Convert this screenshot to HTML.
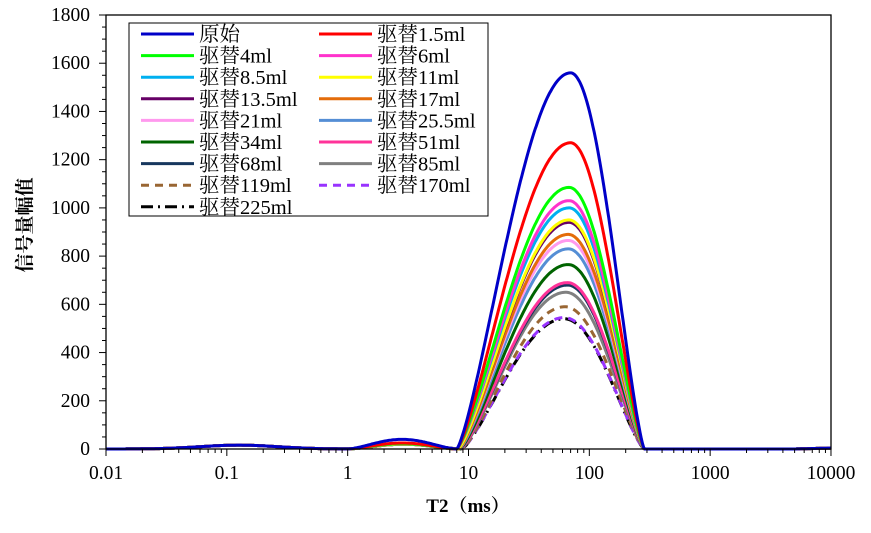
<!DOCTYPE html>
<html><head><meta charset="utf-8"><style>
body{margin:0;background:#fff;}
svg{display:block;font-family:"Liberation Serif","Noto Serif CJK SC",serif;}
</style></head><body>
<svg id="s" width="871" height="533" xmlns="http://www.w3.org/2000/svg">
<rect x="0" y="0" width="871" height="533" fill="#fff"/>
<g id="curves"></g>
<rect x="106" y="15" width="725" height="434" fill="none" stroke="#000" stroke-width="1.3"/>
<g id="ticks" stroke="#000" stroke-width="1"></g>
<g font-size="19.5" fill="#000" id="labels"></g>
<text x="468" y="512" font-size="19" font-weight="bold" text-anchor="middle">T2（ms）</text>
<text transform="translate(31,225) rotate(-90)" font-size="19" font-weight="bold" text-anchor="middle">信号量幅值</text>
<g id="legend"></g>
</svg>
<script>
const NS="http://www.w3.org/2000/svg";
function el(t,a,p){const e=document.createElementNS(NS,t);for(const k in a)e.setAttribute(k,a[k]);p.appendChild(e);return e;}
const X=v=>106+(Math.log10(v)+2)*120.83, Y=v=>449-v*434/1800;
const tk=document.getElementById('ticks'), lb=document.getElementById('labels');
for(let v=0;v<=1800;v+=50){const y=Y(v);el('line',{x1:v%200==0?99:102,x2:106,y1:y,y2:y},tk);
 if(v%200==0){const t=el('text',{x:90,y:y+6,'text-anchor':'end'},lb);t.textContent=v;}}
const xl=['0.01','0.1','1','10','100','1000','10000'];
for(let d=-2;d<=4;d++){for(let m=1;m<10;m++){if(d==4&&m>1)break;const x=X(m*Math.pow(10,d));el('line',{x1:x,x2:x,y1:449,y2:m==1?456:453},tk);}
 const t=el('text',{x:X(Math.pow(10,d)),y:479,'text-anchor':'middle'},lb);t.textContent=xl[d+2];}
const S=[
['原始','#0000c8',1560,'',40,70,8],
['驱替1.5ml','#ff0000',1270,'',25,70,8],
['驱替4ml','#00ff00',1085,'',22,68,8],
['驱替6ml','#ff33cc',1030,'',22,68,8],
['驱替8.5ml','#00b0f0',1000,'',22,68,8],
['驱替11ml','#ffff00',950,'',20,68,8.2],
['驱替13.5ml','#660066',940,'',20,68,8.2],
['驱替17ml','#e46c0a',890,'',20,67,8.3],
['驱替21ml','#ff99ee',865,'',20,67,8.3],
['驱替25.5ml','#558ed5',830,'',20,67,8.4],
['驱替34ml','#006400',765,'',20,67,8.5],
['驱替51ml','#ff3399',690,'',20,66,8.6],
['驱替68ml','#17375e',680,'',20,66,8.6],
['驱替85ml','#808080',650,'',20,64,8.7],
['驱替119ml','#996633',590,'8,6',20,63,8.8],
['驱替170ml','#9933ff',545,'8,6',20,62,8.8],
['驱替225ml','#000000',540,'12,5,2,5',20,62,8.8]];
const cg=document.getElementById('curves');
S.slice().reverse().forEach(s=>{
 const [n,c,A,da,b2,pk,st]=s;const lp=Math.log10(pk),ls=Math.log10(st),le=Math.log10(285);
 let d='';
 for(let lx=-2;lx<=4.0001;lx+=0.01){let v=0;
  const g1=(lx-(-0.9))/0.45; v+=16*Math.exp(-g1*g1);
  if(lx>0&&lx<ls){const t=lx/ls;v+=b2*Math.pow(Math.sin(Math.PI*t),1.5);}
  if(lx>=ls&&lx<=le){let t=lx<lp?(lx-lp)/(lp-ls):(lx-lp)/(le-lp);v=A*Math.pow(Math.cos(Math.PI/2*t),1.3);}
  if(lx>3.7)v+=4*(lx-3.7)/0.3;
  d+=(d?'L':'M')+(106+(lx+2)*120.83).toFixed(1)+','+Y(v).toFixed(1);}
 const a={d:d,fill:'none',stroke:c,'stroke-width':3};if(da)a['stroke-dasharray']=da;el('path',a,cg);});
const lg=document.getElementById('legend');
el('rect',{x:129,y:23,width:359,height:193,fill:'#fff',stroke:'#000','stroke-width':1},lg);
S.forEach((s,i)=>{const col=i%2,row=Math.floor(i/2);const x=col?319:141,y=34+row*21.6;
 const a={x1:x,x2:x+53,y1:y,y2:y,stroke:s[1],'stroke-width':3};if(s[3])a['stroke-dasharray']=s[3];el('line',a,lg);
 const t=el('text',{x:x+58,y:y+7,'font-size':20.5},lg);t.textContent=s[0];});
</script>
</body></html>
